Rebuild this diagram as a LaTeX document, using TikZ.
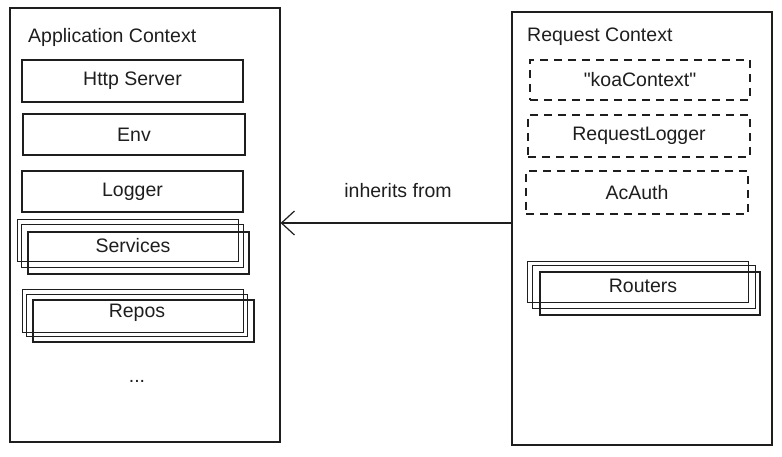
\documentclass[tikz,border=0pt]{standalone}
\usepackage{fontspec}
\setmainfont{Liberation Sans}
\newfontfamily\qfont{Liberation Sans}
\usetikzlibrary{arrows.meta}
\definecolor{ink}{HTML}{1E1E1E}
\newcommand{\sq}{{\qfont\char34}}
\tikzset{
  x=1pt, y=-1pt,
  every node/.style={font=\fontsize{19.5}{22}\selectfont, text=ink},
  container/.style={draw=ink, line width=1.2pt, inner sep=0pt},
  item/.style={draw=ink, line width=1.1pt, inner sep=0pt},
  dashitem/.style={draw=ink, line width=1.1pt, inner sep=0pt, dash pattern=on 8pt off 6pt},
  layer/.style={draw=ink, line width=1pt},
  label/.style={inner sep=0pt},
  inherit/.style={draw=ink, line width=1.2pt, -{Straight Barb[length=13pt, width=24pt, line width=1.2pt]}}
}
\begin{document}
\begin{tikzpicture}
\useasboundingbox (0,0) rectangle (782,457);
% containers
\node[container, minimum width=270pt, minimum height=434pt] (app) at (145,225) {};
\node[container, minimum width=260pt, minimum height=433pt] (req) at (642,228.5) {};
\node[label, anchor=west] (apptitle) at (28,37) {Application Context};
\node[label, anchor=west] (reqtitle) at (527,37) {Request Context};
% application items
\node[item, minimum width=221pt, minimum height=42pt] (http) at (132.5,81) {Http Server};
\node[item, minimum width=222pt, minimum height=41pt] (env) at (134,134.5) {Env};
\node[item, minimum width=221pt, minimum height=41pt] (logger) at (132.5,191.5) {Logger};
% services stack
\draw[layer] (17,220) rectangle (238,262);
\draw[layer] (21,225) rectangle (243,268);
\draw[item] (28,232) rectangle (249,274);
\node[label] (services) at (133,246) {Services};
% repos stack
\draw[layer] (22,289) rectangle (243,332);
\draw[layer] (26,294) rectangle (247,336);
\draw[item] (33,300) rectangle (254,342);
\node[label] (repos) at (137,313) {Repos};
\node[label] (dots) at (137,381) {...};
% request items
\node[dashitem, minimum width=220pt, minimum height=40pt] (koa) at (640,80) {\sq koaContext\sq};
\node[dashitem, minimum width=222pt, minimum height=42pt] (rlog) at (639,136) {RequestLogger};
\node[dashitem, minimum width=222pt, minimum height=43pt] (acauth) at (637,192.5) {AcAuth};
% routers stack
\draw[layer] (527,262) rectangle (748,302);
\draw[layer] (532,266) rectangle (755,308);
\draw[item] (540,272) rectangle (760,315);
\node[label] (routers) at (643,286) {Routers};
% arrow
\coordinate (ay) at (0,223);
\draw[inherit] (req.west |- ay) -- (app.east |- ay);
\node[label] (inh) at (398,191) {inherits from};
\end{tikzpicture}
\end{document}
